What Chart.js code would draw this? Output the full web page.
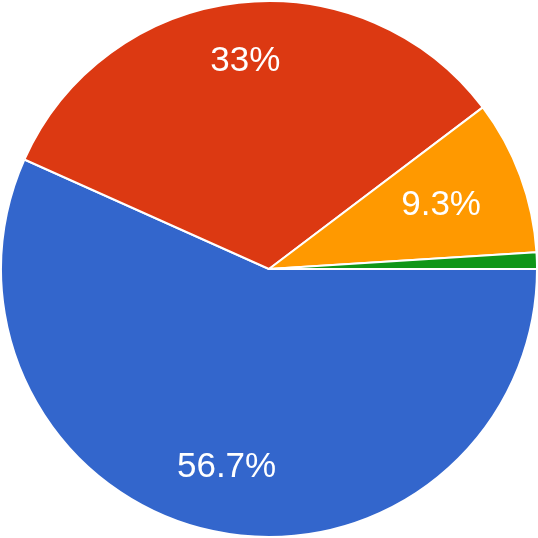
<!DOCTYPE html>
<html>
<head>
<meta charset="utf-8">
<script src="https://cdn.jsdelivr.net/npm/chart.js@4"></script>
<style>
  html, body { margin: 0; padding: 0; background: #ffffff; }
  #wrap { width: 538px; height: 538px; }
</style>
</head>
<body>
<div id="wrap"><canvas id="pie"></canvas></div>
<script>
// slice order: clockwise from 3 o'clock
const categories = ["A", "B", "C", "D"];
const values = [56.7, 33, 9.3, 1];
const labels = ["56.7%", "33%", "9.3%", ""];
const colors = ["#3366cc", "#dc3912", "#ff9900", "#109618"];

// draw percentages inside slices
const sliceLabels = {
    id: 'sliceLabels',
    afterDatasetsDraw(chart) {
        const ctx = chart.ctx;
        const meta = chart.getDatasetMeta(0);
        ctx.save();
        ctx.font = '35px "Liberation Sans", Arial, sans-serif';
        ctx.fillStyle = '#ffffff';
        ctx.textAlign = 'center';
        ctx.textBaseline = 'middle';
        meta.data.forEach((arc, i) => {
            const txt = labels[i];
            if (!txt) return;
            const mid = (arc.startAngle + arc.endAngle) / 2;
            const w = ctx.measureText(txt).width;
            const h = 24;
            const proj = Math.abs(Math.cos(mid)) * w / 2 + Math.abs(Math.sin(mid)) * h / 2;
            const r = arc.outerRadius * 0.84 - proj;
            ctx.fillText(txt, arc.x + Math.cos(mid) * r, arc.y + Math.sin(mid) * r);
        });
        ctx.restore();
    }
};

new Chart(document.getElementById("pie"), {
    type: 'pie',
    data: {
        labels: categories,
        datasets: [{
            data: values,
            backgroundColor: colors,
            borderColor: '#ffffff',
            borderWidth: 2
        }]
    },
    options: {
        responsive: true,
        maintainAspectRatio: false,
        animation: false,
        rotation: 90,
        layout: { padding: 0 },
        plugins: {
            legend: { display: false },
            tooltip: { enabled: false }
        }
    },
    plugins: [sliceLabels]
});
</script>
</body>
</html>
